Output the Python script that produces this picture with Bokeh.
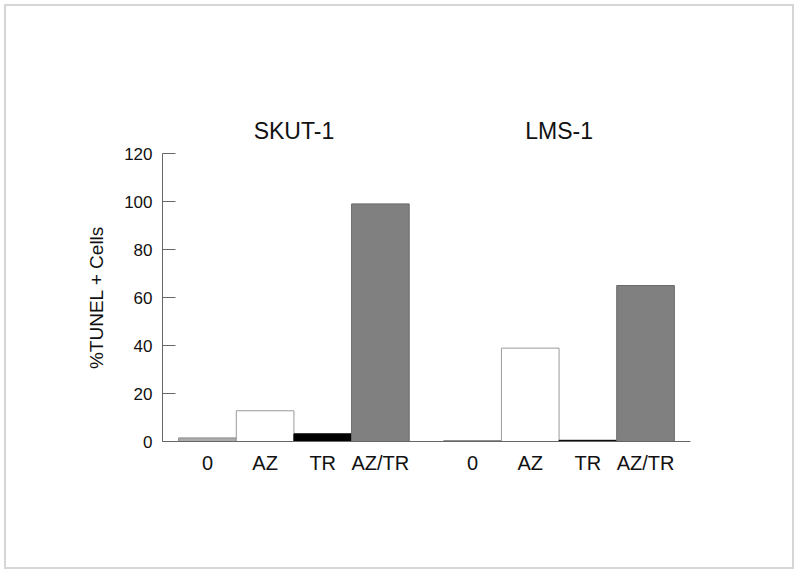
from bokeh.plotting import figure
from bokeh.models import FactorRange, ColumnDataSource, FixedTicker, Range1d, CategoricalAxis
from bokeh.embed import file_html
from bokeh.resources import INLINE

# ---- data ----
cell_lines = ["SKUT-1", "LMS-1"]
treatments = ["0", "AZ", "TR", "AZ/TR"]
skut1_tunel = [1.5, 12.8, 3.2, 99.0]
lms1_tunel = [0.4, 38.9, 0.5, 65.0]
y_ticks = [0, 20, 40, 60, 80, 100, 120]
y_label = "%TUNEL + Cells"

# ---- styles ----
fill_colors = {"0": "#acacac", "AZ": "#ffffff", "TR": "#000000", "AZ/TR": "#808080"}
line_colors = {"0": "#8c8c8c", "AZ": "#9a9a9a", "TR": "#000000", "AZ/TR": "#6a6a6a"}
FONT = "Liberation Sans"
TEXT = "#111111"
AXIS = "#666666"

factors = [(c, t) for c in cell_lines for t in treatments]
values = skut1_tunel + lms1_tunel
src = ColumnDataSource(dict(
    x=factors,
    top=values,
    fill=[fill_colors[t] for _, t in factors],
    line=[line_colors[t] for _, t in factors],
))

xr = FactorRange(*factors, factor_padding=0.0, group_padding=0.6,
                 range_padding=0.28, range_padding_units="absolute")

p = figure(x_range=xr, y_range=Range1d(0, 120), width=786, height=561,
           min_border_left=156, min_border_right=102, min_border_top=147,
           min_border_bottom=126, output_backend="svg", toolbar_location=None)
p.styles = {"margin-left": "6px", "margin-top": "6px",
            "outline": "2px solid #d6d6d6"}

p.vbar(x="x", top="top", width=1.0, source=src, fill_color="fill",
       line_color="line", line_width=1)

p.xgrid.grid_line_color = None
p.ygrid.grid_line_color = None
p.outline_line_color = None

xa = p.xaxis[0]
xa.axis_line_color = AXIS
xa.major_tick_in = 0
xa.major_tick_out = 0
xa.minor_tick_line_color = None
xa.major_label_text_font = FONT
xa.major_label_text_font_size = "20px"
xa.major_label_text_color = TEXT
xa.major_label_standoff = 10
xa.group_text_color = None
xa.group_text_font_size = "1px"
xa.separator_line_color = None

# group titles drawn by a categorical axis above the frame
ta = CategoricalAxis()
p.add_layout(ta, "above")
ta.axis_line_color = None
ta.major_tick_line_color = None
ta.major_tick_in = 0
ta.major_tick_out = 0
ta.minor_tick_line_color = None
ta.major_label_text_color = None
ta.major_label_text_font_size = "1px"
ta.major_label_standoff = 10
ta.group_text_font = FONT
ta.group_text_font_size = "23px"
ta.group_text_font_style = "normal"
ta.group_text_color = TEXT
ta.separator_line_color = None

ya = p.yaxis[0]
ya.ticker = FixedTicker(ticks=y_ticks)
ya.bounds = (0, 120)
ya.axis_line_color = AXIS
ya.major_tick_line_color = AXIS
ya.major_tick_in = 13
ya.major_tick_out = 0
ya.minor_tick_line_color = None
ya.major_label_text_font = FONT
ya.major_label_text_font_size = "17px"
ya.major_label_text_color = TEXT
ya.major_label_standoff = 10
ya.axis_label = y_label
ya.axis_label_text_font = FONT
ya.axis_label_text_font_size = "19px"
ya.axis_label_text_font_style = "normal"
ya.axis_label_text_color = TEXT
ya.axis_label_standoff = 14

open("out.html", "w").write(file_html(p, INLINE))
